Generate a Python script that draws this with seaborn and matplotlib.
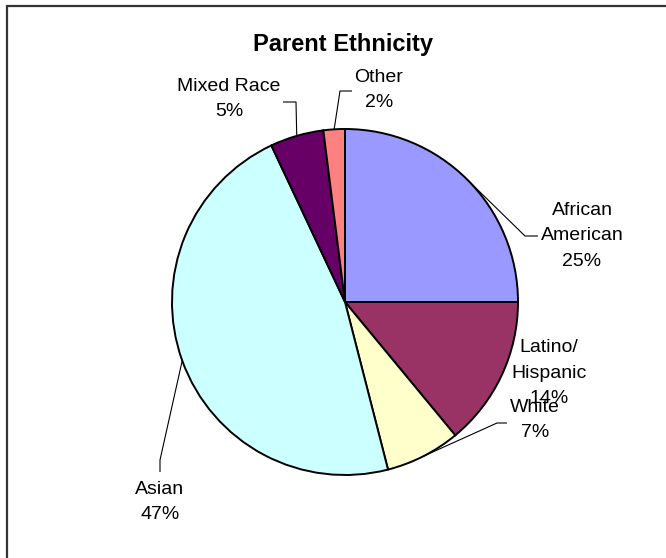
import numpy as np
import matplotlib
matplotlib.use("Agg")
import matplotlib.pyplot as plt
from matplotlib.patches import Rectangle
import seaborn as sns

# ---- data ----
categories = ["African\nAmerican", "Latino/\nHispanic", "White", "Asian", "Mixed Race", "Other"]
values = [25, 14, 7, 47, 5, 2]
pct_labels = ["25%", "14%", "7%", "47%", "5%", "2%"]
colors_hex = ["#9999FF", "#993366", "#FFFFCC", "#CCFFFF", "#660066", "#FF8080"]
title = "Parent Ethnicity"

sns.set_style("white")
plt.rcParams["font.family"] = ["Liberation Sans", "DejaVu Sans"]

W, H = 666, 558
fig = plt.figure(figsize=(W / 100, H / 100), dpi=100)
ax = fig.add_axes([0, 0, 1, 1])

def Y(y):  # pixel (top-down) -> data (bottom-up)
    return H - y

palette = sns.color_palette(colors_hex)
cx, cy, R = 345, 302, 173
wedges, _ = ax.pie(values, colors=palette, startangle=90, counterclock=False,
                   center=(cx, Y(cy)), radius=R,
                   wedgeprops=dict(edgecolor="black", linewidth=1.4))
ax.set_xlim(0, W)
ax.set_ylim(0, H)
ax.set_aspect("equal")
ax.axis("off")

# outer chart border (extends beyond the canvas at right/bottom)
ax.add_patch(Rectangle((7, Y(6) - 700), 800, 700, fill=False,
                       edgecolor="#333333", linewidth=1.6, clip_on=False))

ax.text(343, Y(44), title, ha="center", va="center", fontsize=17,
        fontweight="bold", color="black")

# label layout: text centre, leader elbow, leader end (pixels, top-down)
label_pos = [(582, 236), (549, 373), (535, 420), (160, 502), (229, 99), (379, 90)]
leaders = [((525, 236), (538, 236)), None, ((497, 423), (507, 423)),
           ((160, 460), (160, 472)), ((296, 102), (283, 102)), ((340, 91), (352, 91))]

for w, cat, pct, pos, ld in zip(wedges, categories, pct_labels, label_pos, leaders):
    ax.text(pos[0], Y(pos[1]), f"{cat}\n{pct}", ha="center", va="center",
            fontsize=14, color="black", linespacing=1.65)
    if ld is not None:
        mid = np.deg2rad((w.theta1 + w.theta2) / 2)
        sx = w.center[0] + w.r * np.cos(mid)
        sy = w.center[1] + w.r * np.sin(mid)
        xs = [sx, ld[0][0], ld[1][0]]
        ys = [sy, Y(ld[0][1]), Y(ld[1][1])]
        ax.plot(xs, ys, color="black", linewidth=0.8, solid_capstyle="butt")

fig.savefig("out.png", dpi=100)
